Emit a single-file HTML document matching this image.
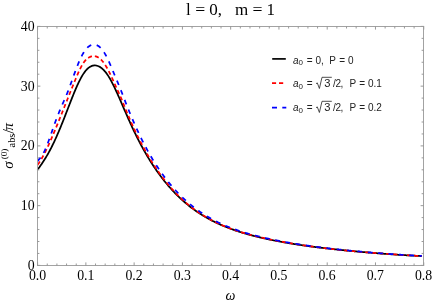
<!DOCTYPE html>
<html><head><meta charset="utf-8"><style>
html,body{margin:0;padding:0;background:#fff;}
svg{display:block;will-change:transform;}
text{font-family:"Liberation Serif",serif;fill:#000;}
.sans{font-family:"Liberation Sans",sans-serif;fill:#222;}
</style></head><body>
<svg width="434" height="305" viewBox="0 0 434 305">
<rect width="434" height="305" fill="#fff"/>
<path d="M37.50,169.77 L38.14,168.90 L38.78,168.03 L39.42,167.15 L40.07,166.26 L40.71,165.35 L41.35,164.43 L41.99,163.49 L42.63,162.54 L43.27,161.57 L43.92,160.58 L44.56,159.57 L45.20,158.54 L45.84,157.49 L46.48,156.42 L47.12,155.33 L47.77,154.22 L48.41,153.08 L49.05,151.92 L49.69,150.73 L50.33,149.53 L50.97,148.30 L51.61,147.04 L52.26,145.76 L52.90,144.46 L53.54,143.13 L54.18,141.78 L54.82,140.41 L55.46,139.01 L56.11,137.60 L56.75,136.16 L57.39,134.70 L58.03,133.22 L58.67,131.72 L59.31,130.20 L59.95,128.66 L60.60,127.11 L61.24,125.54 L61.88,123.95 L62.52,122.35 L63.16,120.74 L63.80,119.11 L64.45,117.48 L65.09,115.84 L65.73,114.19 L66.37,112.53 L67.01,110.88 L67.65,109.22 L68.30,107.55 L68.94,105.89 L69.58,104.24 L70.22,102.59 L70.86,100.94 L71.50,99.31 L72.14,97.69 L72.79,96.08 L73.43,94.49 L74.07,92.91 L74.71,91.36 L75.35,89.84 L75.99,88.34 L76.64,86.86 L77.28,85.42 L77.92,84.02 L78.56,82.65 L79.20,81.33 L79.84,80.04 L80.49,78.81 L81.13,77.62 L81.77,76.48 L82.41,75.40 L83.05,74.37 L83.69,73.39 L84.33,72.47 L84.98,71.61 L85.62,70.80 L86.26,70.05 L86.90,69.36 L87.54,68.73 L88.18,68.16 L88.83,67.64 L89.47,67.19 L90.11,66.78 L90.75,66.43 L91.39,66.14 L92.03,65.89 L92.67,65.70 L93.32,65.56 L93.96,65.47 L94.60,65.43 L95.24,65.45 L95.88,65.50 L96.52,65.61 L97.17,65.77 L97.81,65.97 L98.45,66.22 L99.09,66.52 L99.73,66.86 L100.37,67.26 L101.02,67.69 L101.66,68.18 L102.30,68.71 L102.94,69.29 L103.58,69.92 L104.22,70.59 L104.86,71.31 L105.51,72.08 L106.15,72.89 L106.79,73.76 L107.43,74.67 L108.07,75.63 L108.71,76.63 L109.36,77.68 L110.00,78.78 L110.64,79.91 L111.28,81.08 L111.92,82.29 L112.56,83.53 L113.21,84.80 L113.85,86.10 L114.49,87.42 L115.13,88.77 L115.77,90.15 L116.41,91.54 L117.05,92.94 L117.70,94.37 L118.34,95.81 L118.98,97.25 L119.62,98.71 L120.26,100.18 L120.90,101.65 L121.55,103.13 L122.19,104.61 L122.83,106.09 L123.47,107.58 L124.11,109.06 L124.75,110.54 L125.39,112.02 L126.04,113.49 L126.68,114.96 L127.32,116.42 L127.96,117.87 L128.60,119.32 L129.24,120.75 L129.89,122.18 L130.53,123.60 L131.17,125.00 L131.81,126.39 L132.45,127.77 L133.09,129.14 L133.74,130.50 L134.38,131.84 L135.02,133.17 L135.66,134.48 L136.30,135.79 L136.94,137.08 L137.58,138.35 L138.23,139.61 L138.87,140.86 L139.51,142.10 L140.15,143.32 L140.79,144.53 L141.43,145.73 L142.08,146.91 L142.72,148.08 L143.36,149.24 L144.00,150.39 L144.64,151.52 L145.28,152.65 L145.93,153.76 L146.57,154.86 L147.21,155.94 L147.85,157.02 L148.49,158.08 L149.13,159.13 L149.77,160.18 L150.42,161.20 L151.06,162.22 L151.70,163.23 L152.34,164.23 L152.98,165.21 L153.62,166.18 L154.27,167.15 L154.91,168.10 L155.55,169.04 L156.19,169.97 L156.83,170.90 L157.47,171.81 L158.12,172.71 L158.76,173.60 L159.40,174.48 L160.04,175.35 L160.68,176.21 L161.32,177.06 L161.96,177.91 L162.61,178.74 L163.25,179.56 L163.89,180.37 L164.53,181.18 L165.17,181.97 L165.81,182.76 L166.46,183.54 L167.10,184.30 L167.74,185.06 L168.38,185.81 L169.02,186.56 L169.66,187.29 L170.30,188.01 L170.95,188.73 L171.59,189.44 L172.23,190.14 L172.87,190.83 L173.51,191.51 L174.15,192.19 L174.80,192.86 L175.44,193.52 L176.08,194.17 L176.72,194.81 L177.36,195.45 L178.00,196.08 L178.65,196.70 L179.29,197.32 L179.93,197.92 L180.57,198.52 L181.21,199.12 L181.85,199.70 L182.49,200.28 L183.14,200.86 L183.78,201.42 L184.42,201.98 L185.06,202.53 L185.70,203.08 L186.34,203.62 L186.99,204.15 L187.63,204.67 L188.27,205.19 L188.91,205.71 L189.55,206.21 L190.19,206.72 L190.84,207.21 L191.48,207.70 L192.12,208.18 L192.76,208.66 L193.40,209.13 L194.04,209.60 L194.68,210.06 L195.33,210.52 L195.97,210.97 L196.61,211.41 L197.25,211.85 L197.89,212.28 L198.53,212.71 L199.18,213.13 L199.82,213.55 L200.46,213.96 L201.10,214.37 L201.74,214.78 L202.38,215.17 L203.02,215.57 L203.67,215.96 L204.31,216.34 L204.95,216.72 L205.59,217.09 L206.23,217.46 L206.87,217.83 L207.52,218.19 L208.16,218.55 L208.80,218.90 L209.44,219.25 L210.08,219.60 L210.72,219.94 L211.37,220.27 L212.01,220.61 L212.65,220.93 L213.29,221.26 L213.93,221.58 L214.57,221.90 L215.21,222.21 L215.86,222.52 L216.50,222.83 L217.14,223.13 L217.78,223.43 L218.42,223.72 L219.06,224.01 L219.71,224.30 L220.35,224.59 L220.99,224.87 L221.63,225.15 L222.27,225.43 L222.91,225.70 L223.56,225.97 L224.20,226.23 L224.84,226.50 L225.48,226.76 L226.12,227.01 L226.76,227.27 L227.40,227.52 L228.05,227.77 L228.69,228.02 L229.33,228.26 L229.97,228.50 L230.61,228.74 L231.25,228.97 L231.90,229.21 L232.54,229.44 L233.18,229.67 L233.82,229.89 L234.46,230.11 L235.10,230.33 L235.74,230.55 L236.39,230.77 L237.03,230.98 L237.67,231.20 L238.31,231.40 L238.95,231.61 L239.59,231.82 L240.24,232.02 L240.88,232.22 L241.52,232.42 L242.16,232.62 L242.80,232.81 L243.44,233.01 L244.09,233.20 L244.73,233.39 L245.37,233.58 L246.01,233.76 L246.65,233.95 L247.29,234.13 L247.93,234.31 L248.58,234.49 L249.22,234.66 L249.86,234.84 L250.50,235.01 L251.14,235.19 L251.78,235.36 L252.43,235.53 L253.07,235.69 L253.71,235.86 L254.35,236.03 L254.99,236.19 L255.63,236.35 L256.28,236.51 L256.92,236.67 L257.56,236.83 L258.20,236.98 L258.84,237.14 L259.48,237.29 L260.12,237.45 L260.77,237.60 L261.41,237.75 L262.05,237.89 L262.69,238.04 L263.33,238.19 L263.97,238.33 L264.62,238.48 L265.26,238.62 L265.90,238.76 L266.54,238.90 L267.18,239.04 L267.82,239.18 L268.46,239.32 L269.11,239.45 L269.75,239.59 L270.39,239.72 L271.03,239.85 L271.67,239.99 L272.31,240.12 L272.96,240.25 L273.60,240.38 L274.24,240.50 L274.88,240.63 L275.52,240.76 L276.16,240.88 L276.81,241.01 L277.45,241.13 L278.09,241.25 L278.73,241.37 L279.37,241.49 L280.01,241.61 L280.65,241.73 L281.30,241.85 L281.94,241.96 L282.58,242.08 L283.22,242.19 L283.86,242.31 L284.50,242.42 L285.15,242.53 L285.79,242.64 L286.43,242.76 L287.07,242.86 L287.71,242.97 L288.35,243.08 L289.00,243.19 L289.64,243.30 L290.28,243.40 L290.92,243.51 L291.56,243.61 L292.20,243.72 L292.84,243.82 L293.49,243.92 L294.13,244.02 L294.77,244.12 L295.41,244.22 L296.05,244.32 L296.69,244.42 L297.34,244.52 L297.98,244.62 L298.62,244.71 L299.26,244.81 L299.90,244.90 L300.54,245.00 L301.18,245.09 L301.83,245.19 L302.47,245.28 L303.11,245.37 L303.75,245.46 L304.39,245.55 L305.03,245.65 L305.68,245.74 L306.32,245.82 L306.96,245.91 L307.60,246.00 L308.24,246.09 L308.88,246.18 L309.53,246.26 L310.17,246.35 L310.81,246.43 L311.45,246.52 L312.09,246.60 L312.73,246.69 L313.37,246.77 L314.02,246.85 L314.66,246.94 L315.30,247.02 L315.94,247.10 L316.58,247.18 L317.22,247.26 L317.87,247.34 L318.51,247.42 L319.15,247.50 L319.79,247.58 L320.43,247.66 L321.07,247.73 L321.72,247.81 L322.36,247.89 L323.00,247.96 L323.64,248.04 L324.28,248.12 L324.92,248.19 L325.56,248.27 L326.21,248.34 L326.85,248.41 L327.49,248.49 L328.13,248.56 L328.77,248.63 L329.41,248.71 L330.06,248.78 L330.70,248.85 L331.34,248.92 L331.98,248.99 L332.62,249.06 L333.26,249.13 L333.91,249.20 L334.55,249.27 L335.19,249.34 L335.83,249.41 L336.47,249.48 L337.11,249.55 L337.75,249.61 L338.40,249.68 L339.04,249.75 L339.68,249.82 L340.32,249.88 L340.96,249.95 L341.60,250.01 L342.25,250.08 L342.89,250.15 L343.53,250.21 L344.17,250.28 L344.81,250.34 L345.45,250.40 L346.09,250.47 L346.74,250.53 L347.38,250.59 L348.02,250.66 L348.66,250.72 L349.30,250.78 L349.94,250.84 L350.59,250.91 L351.23,250.97 L351.87,251.03 L352.51,251.09 L353.15,251.15 L353.79,251.21 L354.44,251.27 L355.08,251.33 L355.72,251.39 L356.36,251.45 L357.00,251.51 L357.64,251.57 L358.28,251.63 L358.93,251.68 L359.57,251.74 L360.21,251.80 L360.85,251.86 L361.49,251.92 L362.13,251.97 L362.78,252.03 L363.42,252.09 L364.06,252.14 L364.70,252.20 L365.34,252.25 L365.98,252.31 L366.63,252.37 L367.27,252.42 L367.91,252.48 L368.55,252.53 L369.19,252.58 L369.83,252.64 L370.47,252.69 L371.12,252.75 L371.76,252.80 L372.40,252.85 L373.04,252.90 L373.68,252.96 L374.32,253.01 L374.97,253.06 L375.61,253.11 L376.25,253.17 L376.89,253.22 L377.53,253.27 L378.17,253.32 L378.81,253.37 L379.46,253.42 L380.10,253.47 L380.74,253.52 L381.38,253.57 L382.02,253.62 L382.66,253.67 L383.31,253.72 L383.95,253.76 L384.59,253.81 L385.23,253.86 L385.87,253.91 L386.51,253.96 L387.16,254.00 L387.80,254.05 L388.44,254.10 L389.08,254.14 L389.72,254.19 L390.36,254.23 L391.00,254.28 L391.65,254.33 L392.29,254.37 L392.93,254.41 L393.57,254.46 L394.21,254.50 L394.85,254.55 L395.50,254.59 L396.14,254.63 L396.78,254.68 L397.42,254.72 L398.06,254.76 L398.70,254.80 L399.35,254.84 L399.99,254.88 L400.63,254.93 L401.27,254.97 L401.91,255.01 L402.55,255.05 L403.19,255.09 L403.84,255.12 L404.48,255.16 L405.12,255.20 L405.76,255.24 L406.40,255.28 L407.04,255.32 L407.69,255.35 L408.33,255.39 L408.97,255.42 L409.61,255.46 L410.25,255.50 L410.89,255.53 L411.53,255.57 L412.18,255.60 L412.82,255.63 L413.46,255.67 L414.10,255.70 L414.74,255.73 L415.38,255.77 L416.03,255.80 L416.67,255.83 L417.31,255.86 L417.95,255.89 L418.59,255.92 L419.23,255.95 L419.88,255.98 L420.52,256.01 L421.16,256.04 L421.80,256.06" fill="none" stroke="#000" stroke-width="1.75" stroke-linejoin="round"/>
<path d="M37.50,164.85 L38.14,164.04 L38.78,163.17 L39.42,162.24 L40.07,161.26 L40.71,160.24 L41.35,159.17 L41.99,158.06 L42.63,156.91 L43.27,155.72 L43.92,154.51 L44.56,153.26 L45.20,151.99 L45.84,150.69 L46.48,149.37 L47.12,148.02 L47.77,146.66 L48.41,145.27 L49.05,143.87 L49.69,142.45 L50.33,141.02 L50.97,139.56 L51.61,138.10 L52.26,136.62 L52.90,135.12 L53.54,133.62 L54.18,132.10 L54.82,130.57 L55.46,129.03 L56.11,127.48 L56.75,125.92 L57.39,124.36 L58.03,122.78 L58.67,121.20 L59.31,119.62 L59.95,118.02 L60.60,116.43 L61.24,114.82 L61.88,113.22 L62.52,111.61 L63.16,110.00 L63.80,108.39 L64.45,106.78 L65.09,105.16 L65.73,103.55 L66.37,101.94 L67.01,100.32 L67.65,98.71 L68.30,97.11 L68.94,95.50 L69.58,93.90 L70.22,92.30 L70.86,90.71 L71.50,89.12 L72.14,87.53 L72.79,85.96 L73.43,84.39 L74.07,82.82 L74.71,81.26 L75.35,79.71 L75.99,78.18 L76.64,76.65 L77.28,75.15 L77.92,73.67 L78.56,72.22 L79.20,70.80 L79.84,69.44 L80.49,68.12 L81.13,66.87 L81.77,65.68 L82.41,64.57 L83.05,63.52 L83.69,62.55 L84.33,61.66 L84.98,60.85 L85.62,60.11 L86.26,59.46 L86.90,58.87 L87.54,58.35 L88.18,57.90 L88.83,57.51 L89.47,57.18 L90.11,56.89 L90.75,56.65 L91.39,56.46 L92.03,56.32 L92.67,56.22 L93.32,56.16 L93.96,56.16 L94.60,56.19 L95.24,56.28 L95.88,56.43 L96.52,56.62 L97.17,56.87 L97.81,57.18 L98.45,57.55 L99.09,57.97 L99.73,58.45 L100.37,58.99 L101.02,59.59 L101.66,60.25 L102.30,60.97 L102.94,61.75 L103.58,62.58 L104.22,63.47 L104.86,64.41 L105.51,65.41 L106.15,66.45 L106.79,67.55 L107.43,68.69 L108.07,69.88 L108.71,71.10 L109.36,72.37 L110.00,73.67 L110.64,75.00 L111.28,76.36 L111.92,77.75 L112.56,79.15 L113.21,80.57 L113.85,82.00 L114.49,83.44 L115.13,84.88 L115.77,86.31 L116.41,87.74 L117.05,89.16 L117.70,90.57 L118.34,91.98 L118.98,93.39 L119.62,94.81 L120.26,96.25 L120.90,97.71 L121.55,99.20 L122.19,100.74 L122.83,102.31 L123.47,103.90 L124.11,105.50 L124.75,107.11 L125.39,108.70 L126.04,110.28 L126.68,111.85 L127.32,113.39 L127.96,114.93 L128.60,116.45 L129.24,117.95 L129.89,119.43 L130.53,120.90 L131.17,122.36 L131.81,123.80 L132.45,125.23 L133.09,126.64 L133.74,128.03 L134.38,129.42 L135.02,130.78 L135.66,132.14 L136.30,133.47 L136.94,134.80 L137.58,136.11 L138.23,137.41 L138.87,138.69 L139.51,139.96 L140.15,141.21 L140.79,142.46 L141.43,143.69 L142.08,144.90 L142.72,146.11 L143.36,147.30 L144.00,148.47 L144.64,149.64 L145.28,150.79 L145.93,151.93 L146.57,153.06 L147.21,154.17 L147.85,155.27 L148.49,156.37 L149.13,157.44 L149.77,158.51 L150.42,159.57 L151.06,160.61 L151.70,161.64 L152.34,162.66 L152.98,163.67 L153.62,164.67 L154.27,165.66 L154.91,166.64 L155.55,167.60 L156.19,168.56 L156.83,169.50 L157.47,170.44 L158.12,171.36 L158.76,172.27 L159.40,173.18 L160.04,174.07 L160.68,174.95 L161.32,175.82 L161.96,176.69 L162.61,177.54 L163.25,178.38 L163.89,179.22 L164.53,180.04 L165.17,180.86 L165.81,181.66 L166.46,182.46 L167.10,183.24 L167.74,184.02 L168.38,184.79 L169.02,185.55 L169.66,186.30 L170.30,187.05 L170.95,187.78 L171.59,188.51 L172.23,189.22 L172.87,189.93 L173.51,190.63 L174.15,191.33 L174.80,192.01 L175.44,192.69 L176.08,193.36 L176.72,194.02 L177.36,194.67 L178.00,195.32 L178.65,195.95 L179.29,196.58 L179.93,197.21 L180.57,197.82 L181.21,198.43 L181.85,199.03 L182.49,199.63 L183.14,200.21 L183.78,200.79 L184.42,201.36 L185.06,201.93 L185.70,202.49 L186.34,203.04 L186.99,203.59 L187.63,204.13 L188.27,204.66 L188.91,205.19 L189.55,205.71 L190.19,206.22 L190.84,206.73 L191.48,207.23 L192.12,207.72 L192.76,208.21 L193.40,208.70 L194.04,209.17 L194.68,209.64 L195.33,210.11 L195.97,210.57 L196.61,211.02 L197.25,211.47 L197.89,211.92 L198.53,212.35 L199.18,212.79 L199.82,213.21 L200.46,213.64 L201.10,214.05 L201.74,214.47 L202.38,214.87 L203.02,215.27 L203.67,215.67 L204.31,216.06 L204.95,216.45 L205.59,216.83 L206.23,217.21 L206.87,217.58 L207.52,217.95 L208.16,218.31 L208.80,218.67 L209.44,219.03 L210.08,219.38 L210.72,219.73 L211.37,220.07 L212.01,220.41 L212.65,220.74 L213.29,221.07 L213.93,221.40 L214.57,221.72 L215.21,222.04 L215.86,222.35 L216.50,222.66 L217.14,222.97 L217.78,223.27 L218.42,223.57 L219.06,223.86 L219.71,224.16 L220.35,224.44 L220.99,224.73 L221.63,225.01 L222.27,225.29 L222.91,225.56 L223.56,225.84 L224.20,226.10 L224.84,226.37 L225.48,226.63 L226.12,226.89 L226.76,227.15 L227.40,227.40 L228.05,227.65 L228.69,227.90 L229.33,228.14 L229.97,228.38 L230.61,228.62 L231.25,228.86 L231.90,229.09 L232.54,229.32 L233.18,229.55 L233.82,229.77 L234.46,230.00 L235.10,230.22 L235.74,230.43 L236.39,230.65 L237.03,230.86 L237.67,231.07 L238.31,231.28 L238.95,231.49 L239.59,231.69 L240.24,231.90 L240.88,232.10 L241.52,232.29 L242.16,232.49 L242.80,232.68 L243.44,232.87 L244.09,233.06 L244.73,233.25 L245.37,233.44 L246.01,233.62 L246.65,233.80 L247.29,233.98 L247.93,234.16 L248.58,234.34 L249.22,234.51 L249.86,234.69 L250.50,234.86 L251.14,235.03 L251.78,235.20 L252.43,235.36 L253.07,235.53 L253.71,235.69 L254.35,235.85 L254.99,236.01 L255.63,236.17 L256.28,236.33 L256.92,236.49 L257.56,236.64 L258.20,236.80 L258.84,236.95 L259.48,237.10 L260.12,237.25 L260.77,237.40 L261.41,237.55 L262.05,237.69 L262.69,237.84 L263.33,237.98 L263.97,238.12 L264.62,238.27 L265.26,238.41 L265.90,238.55 L266.54,238.68 L267.18,238.82 L267.82,238.96 L268.46,239.09 L269.11,239.23 L269.75,239.36 L270.39,239.49 L271.03,239.63 L271.67,239.76 L272.31,239.89 L272.96,240.02 L273.60,240.14 L274.24,240.27 L274.88,240.40 L275.52,240.52 L276.16,240.65 L276.81,240.77 L277.45,240.89 L278.09,241.02 L278.73,241.14 L279.37,241.26 L280.01,241.38 L280.65,241.50 L281.30,241.62 L281.94,241.73 L282.58,241.85 L283.22,241.97 L283.86,242.08 L284.50,242.20 L285.15,242.31 L285.79,242.43 L286.43,242.54 L287.07,242.65 L287.71,242.76 L288.35,242.87 L289.00,242.98 L289.64,243.09 L290.28,243.20 L290.92,243.31 L291.56,243.42 L292.20,243.52 L292.84,243.63 L293.49,243.74 L294.13,243.84 L294.77,243.95 L295.41,244.05 L296.05,244.15 L296.69,244.26 L297.34,244.36 L297.98,244.46 L298.62,244.56 L299.26,244.66 L299.90,244.76 L300.54,244.86 L301.18,244.96 L301.83,245.06 L302.47,245.15 L303.11,245.25 L303.75,245.35 L304.39,245.44 L305.03,245.54 L305.68,245.63 L306.32,245.72 L306.96,245.82 L307.60,245.91 L308.24,246.00 L308.88,246.09 L309.53,246.18 L310.17,246.27 L310.81,246.36 L311.45,246.45 L312.09,246.54 L312.73,246.63 L313.37,246.72 L314.02,246.80 L314.66,246.89 L315.30,246.98 L315.94,247.06 L316.58,247.15 L317.22,247.23 L317.87,247.31 L318.51,247.40 L319.15,247.48 L319.79,247.56 L320.43,247.64 L321.07,247.72 L321.72,247.81 L322.36,247.89 L323.00,247.97 L323.64,248.04 L324.28,248.12 L324.92,248.20 L325.56,248.28 L326.21,248.36 L326.85,248.43 L327.49,248.51 L328.13,248.58 L328.77,248.66 L329.41,248.73 L330.06,248.81 L330.70,248.88 L331.34,248.96 L331.98,249.03 L332.62,249.10 L333.26,249.17 L333.91,249.24 L334.55,249.32 L335.19,249.39 L335.83,249.46 L336.47,249.53 L337.11,249.59 L337.75,249.66 L338.40,249.73 L339.04,249.80 L339.68,249.87 L340.32,249.93 L340.96,250.00 L341.60,250.07 L342.25,250.13 L342.89,250.20 L343.53,250.26 L344.17,250.33 L344.81,250.39 L345.45,250.46 L346.09,250.52 L346.74,250.58 L347.38,250.65 L348.02,250.71 L348.66,250.77 L349.30,250.83 L349.94,250.89 L350.59,250.95 L351.23,251.01 L351.87,251.07 L352.51,251.13 L353.15,251.19 L353.79,251.25 L354.44,251.31 L355.08,251.37 L355.72,251.43 L356.36,251.48 L357.00,251.54 L357.64,251.60 L358.28,251.65 L358.93,251.71 L359.57,251.76 L360.21,251.82 L360.85,251.88 L361.49,251.93 L362.13,251.98 L362.78,252.04 L363.42,252.09 L364.06,252.15 L364.70,252.20 L365.34,252.25 L365.98,252.31 L366.63,252.36 L367.27,252.41 L367.91,252.46 L368.55,252.51 L369.19,252.56 L369.83,252.61 L370.47,252.67 L371.12,252.72 L371.76,252.77 L372.40,252.82 L373.04,252.87 L373.68,252.91 L374.32,252.96 L374.97,253.01 L375.61,253.06 L376.25,253.11 L376.89,253.16 L377.53,253.20 L378.17,253.25 L378.81,253.30 L379.46,253.35 L380.10,253.39 L380.74,253.44 L381.38,253.49 L382.02,253.53 L382.66,253.58 L383.31,253.62 L383.95,253.67 L384.59,253.72 L385.23,253.76 L385.87,253.81 L386.51,253.85 L387.16,253.89 L387.80,253.94 L388.44,253.98 L389.08,254.03 L389.72,254.07 L390.36,254.11 L391.00,254.16 L391.65,254.20 L392.29,254.24 L392.93,254.29 L393.57,254.33 L394.21,254.37 L394.85,254.42 L395.50,254.46 L396.14,254.50 L396.78,254.54 L397.42,254.58 L398.06,254.63 L398.70,254.67 L399.35,254.71 L399.99,254.75 L400.63,254.79 L401.27,254.83 L401.91,254.87 L402.55,254.92 L403.19,254.96 L403.84,255.00 L404.48,255.04 L405.12,255.08 L405.76,255.12 L406.40,255.16 L407.04,255.20 L407.69,255.24 L408.33,255.28 L408.97,255.32 L409.61,255.36 L410.25,255.40 L410.89,255.44 L411.53,255.48 L412.18,255.52 L412.82,255.56 L413.46,255.60 L414.10,255.64 L414.74,255.68 L415.38,255.72 L416.03,255.76 L416.67,255.80 L417.31,255.84 L417.95,255.88 L418.59,255.92 L419.23,255.96 L419.88,256.00 L420.52,256.03 L421.16,256.07 L421.80,256.11" fill="none" stroke="#f00" stroke-width="1.75" stroke-dasharray="4.1,2.9" stroke-linejoin="round"/>
<path d="M37.50,161.26 L38.14,160.46 L38.78,159.68 L39.42,158.90 L40.07,158.11 L40.71,157.29 L41.35,156.41 L41.99,155.47 L42.63,154.46 L43.27,153.36 L43.92,152.18 L44.56,150.91 L45.20,149.55 L45.84,148.11 L46.48,146.57 L47.12,144.97 L47.77,143.29 L48.41,141.56 L49.05,139.78 L49.69,137.97 L50.33,136.14 L50.97,134.30 L51.61,132.44 L52.26,130.59 L52.90,128.75 L53.54,126.92 L54.18,125.11 L54.82,123.32 L55.46,121.56 L56.11,119.83 L56.75,118.13 L57.39,116.46 L58.03,114.83 L58.67,113.23 L59.31,111.66 L59.95,110.12 L60.60,108.60 L61.24,107.11 L61.88,105.63 L62.52,104.17 L63.16,102.72 L63.80,101.26 L64.45,99.80 L65.09,98.32 L65.73,96.82 L66.37,95.28 L67.01,93.72 L67.65,92.12 L68.30,90.48 L68.94,88.80 L69.58,87.09 L70.22,85.35 L70.86,83.58 L71.50,81.80 L72.14,80.00 L72.79,78.21 L73.43,76.41 L74.07,74.63 L74.71,72.86 L75.35,71.11 L75.99,69.39 L76.64,67.71 L77.28,66.06 L77.92,64.45 L78.56,62.89 L79.20,61.38 L79.84,59.93 L80.49,58.53 L81.13,57.19 L81.77,55.92 L82.41,54.71 L83.05,53.56 L83.69,52.49 L84.33,51.48 L84.98,50.55 L85.62,49.68 L86.26,48.89 L86.90,48.17 L87.54,47.51 L88.18,46.93 L88.83,46.42 L89.47,45.97 L90.11,45.59 L90.75,45.28 L91.39,45.02 L92.03,44.83 L92.67,44.69 L93.32,44.61 L93.96,44.59 L94.60,44.63 L95.24,44.72 L95.88,44.87 L96.52,45.08 L97.17,45.35 L97.81,45.68 L98.45,46.07 L99.09,46.53 L99.73,47.05 L100.37,47.64 L101.02,48.30 L101.66,49.02 L102.30,49.81 L102.94,50.67 L103.58,51.59 L104.22,52.58 L104.86,53.64 L105.51,54.75 L106.15,55.93 L106.79,57.16 L107.43,58.44 L108.07,59.77 L108.71,61.15 L109.36,62.57 L110.00,64.03 L110.64,65.52 L111.28,67.03 L111.92,68.57 L112.56,70.12 L113.21,71.68 L113.85,73.24 L114.49,74.79 L115.13,76.34 L115.77,77.88 L116.41,79.41 L117.05,80.94 L117.70,82.46 L118.34,83.98 L118.98,85.52 L119.62,87.07 L120.26,88.64 L120.90,90.24 L121.55,91.86 L122.19,93.50 L122.83,95.15 L123.47,96.82 L124.11,98.49 L124.75,100.16 L125.39,101.82 L126.04,103.46 L126.68,105.09 L127.32,106.70 L127.96,108.31 L128.60,109.90 L129.24,111.47 L129.89,113.04 L130.53,114.58 L131.17,116.12 L131.81,117.64 L132.45,119.15 L133.09,120.64 L133.74,122.12 L134.38,123.58 L135.02,125.04 L135.66,126.47 L136.30,127.89 L136.94,129.30 L137.58,130.70 L138.23,132.08 L138.87,133.44 L139.51,134.79 L140.15,136.13 L140.79,137.45 L141.43,138.76 L142.08,140.05 L142.72,141.33 L143.36,142.60 L144.00,143.85 L144.64,145.09 L145.28,146.31 L145.93,147.52 L146.57,148.72 L147.21,149.90 L147.85,151.07 L148.49,152.23 L149.13,153.37 L149.77,154.50 L150.42,155.61 L151.06,156.71 L151.70,157.80 L152.34,158.88 L152.98,159.94 L153.62,160.99 L154.27,162.03 L154.91,163.06 L155.55,164.08 L156.19,165.08 L156.83,166.07 L157.47,167.05 L158.12,168.02 L158.76,168.97 L159.40,169.92 L160.04,170.85 L160.68,171.78 L161.32,172.69 L161.96,173.59 L162.61,174.48 L163.25,175.36 L163.89,176.24 L164.53,177.10 L165.17,177.95 L165.81,178.79 L166.46,179.62 L167.10,180.44 L167.74,181.25 L168.38,182.05 L169.02,182.85 L169.66,183.63 L170.30,184.40 L170.95,185.17 L171.59,185.93 L172.23,186.67 L172.87,187.41 L173.51,188.14 L174.15,188.86 L174.80,189.58 L175.44,190.28 L176.08,190.98 L176.72,191.67 L177.36,192.35 L178.00,193.02 L178.65,193.68 L179.29,194.34 L179.93,194.99 L180.57,195.63 L181.21,196.26 L181.85,196.89 L182.49,197.51 L183.14,198.12 L183.78,198.72 L184.42,199.32 L185.06,199.91 L185.70,200.49 L186.34,201.07 L186.99,201.64 L187.63,202.20 L188.27,202.76 L188.91,203.30 L189.55,203.85 L190.19,204.38 L190.84,204.91 L191.48,205.43 L192.12,205.95 L192.76,206.46 L193.40,206.96 L194.04,207.46 L194.68,207.95 L195.33,208.44 L195.97,208.92 L196.61,209.39 L197.25,209.86 L197.89,210.32 L198.53,210.78 L199.18,211.23 L199.82,211.68 L200.46,212.12 L201.10,212.55 L201.74,212.98 L202.38,213.41 L203.02,213.82 L203.67,214.24 L204.31,214.65 L204.95,215.05 L205.59,215.45 L206.23,215.84 L206.87,216.23 L207.52,216.62 L208.16,217.00 L208.80,217.37 L209.44,217.74 L210.08,218.11 L210.72,218.47 L211.37,218.83 L212.01,219.18 L212.65,219.53 L213.29,219.88 L213.93,220.22 L214.57,220.55 L215.21,220.88 L215.86,221.21 L216.50,221.54 L217.14,221.86 L217.78,222.17 L218.42,222.49 L219.06,222.79 L219.71,223.10 L220.35,223.40 L220.99,223.70 L221.63,223.99 L222.27,224.28 L222.91,224.57 L223.56,224.86 L224.20,225.14 L224.84,225.41 L225.48,225.69 L226.12,225.96 L226.76,226.23 L227.40,226.49 L228.05,226.75 L228.69,227.01 L229.33,227.27 L229.97,227.52 L230.61,227.77 L231.25,228.01 L231.90,228.26 L232.54,228.50 L233.18,228.74 L233.82,228.97 L234.46,229.21 L235.10,229.44 L235.74,229.67 L236.39,229.89 L237.03,230.11 L237.67,230.33 L238.31,230.55 L238.95,230.77 L239.59,230.98 L240.24,231.19 L240.88,231.40 L241.52,231.61 L242.16,231.81 L242.80,232.02 L243.44,232.22 L244.09,232.41 L244.73,232.61 L245.37,232.80 L246.01,233.00 L246.65,233.19 L247.29,233.37 L247.93,233.56 L248.58,233.75 L249.22,233.93 L249.86,234.11 L250.50,234.29 L251.14,234.47 L251.78,234.64 L252.43,234.82 L253.07,234.99 L253.71,235.16 L254.35,235.33 L254.99,235.50 L255.63,235.66 L256.28,235.83 L256.92,235.99 L257.56,236.15 L258.20,236.31 L258.84,236.47 L259.48,236.63 L260.12,236.79 L260.77,236.94 L261.41,237.09 L262.05,237.25 L262.69,237.40 L263.33,237.55 L263.97,237.70 L264.62,237.84 L265.26,237.99 L265.90,238.13 L266.54,238.28 L267.18,238.42 L267.82,238.56 L268.46,238.70 L269.11,238.84 L269.75,238.98 L270.39,239.12 L271.03,239.25 L271.67,239.39 L272.31,239.52 L272.96,239.66 L273.60,239.79 L274.24,239.92 L274.88,240.05 L275.52,240.18 L276.16,240.31 L276.81,240.43 L277.45,240.56 L278.09,240.69 L278.73,240.81 L279.37,240.93 L280.01,241.06 L280.65,241.18 L281.30,241.30 L281.94,241.42 L282.58,241.54 L283.22,241.66 L283.86,241.78 L284.50,241.90 L285.15,242.01 L285.79,242.13 L286.43,242.24 L287.07,242.36 L287.71,242.47 L288.35,242.58 L289.00,242.69 L289.64,242.81 L290.28,242.92 L290.92,243.02 L291.56,243.13 L292.20,243.24 L292.84,243.35 L293.49,243.46 L294.13,243.56 L294.77,243.67 L295.41,243.77 L296.05,243.87 L296.69,243.98 L297.34,244.08 L297.98,244.18 L298.62,244.28 L299.26,244.38 L299.90,244.48 L300.54,244.58 L301.18,244.68 L301.83,244.78 L302.47,244.87 L303.11,244.97 L303.75,245.07 L304.39,245.16 L305.03,245.26 L305.68,245.35 L306.32,245.44 L306.96,245.54 L307.60,245.63 L308.24,245.72 L308.88,245.81 L309.53,245.90 L310.17,245.99 L310.81,246.08 L311.45,246.17 L312.09,246.26 L312.73,246.35 L313.37,246.43 L314.02,246.52 L314.66,246.60 L315.30,246.69 L315.94,246.77 L316.58,246.86 L317.22,246.94 L317.87,247.03 L318.51,247.11 L319.15,247.19 L319.79,247.27 L320.43,247.35 L321.07,247.44 L321.72,247.52 L322.36,247.60 L323.00,247.67 L323.64,247.75 L324.28,247.83 L324.92,247.91 L325.56,247.99 L326.21,248.06 L326.85,248.14 L327.49,248.22 L328.13,248.29 L328.77,248.37 L329.41,248.44 L330.06,248.52 L330.70,248.59 L331.34,248.66 L331.98,248.74 L332.62,248.81 L333.26,248.88 L333.91,248.95 L334.55,249.03 L335.19,249.10 L335.83,249.17 L336.47,249.24 L337.11,249.31 L337.75,249.38 L338.40,249.45 L339.04,249.51 L339.68,249.58 L340.32,249.65 L340.96,249.72 L341.60,249.79 L342.25,249.85 L342.89,249.92 L343.53,249.99 L344.17,250.05 L344.81,250.12 L345.45,250.18 L346.09,250.25 L346.74,250.31 L347.38,250.37 L348.02,250.44 L348.66,250.50 L349.30,250.56 L349.94,250.63 L350.59,250.69 L351.23,250.75 L351.87,250.81 L352.51,250.88 L353.15,250.94 L353.79,251.00 L354.44,251.06 L355.08,251.12 L355.72,251.18 L356.36,251.24 L357.00,251.30 L357.64,251.36 L358.28,251.41 L358.93,251.47 L359.57,251.53 L360.21,251.59 L360.85,251.65 L361.49,251.70 L362.13,251.76 L362.78,251.82 L363.42,251.87 L364.06,251.93 L364.70,251.99 L365.34,252.04 L365.98,252.10 L366.63,252.15 L367.27,252.21 L367.91,252.26 L368.55,252.32 L369.19,252.37 L369.83,252.42 L370.47,252.48 L371.12,252.53 L371.76,252.58 L372.40,252.64 L373.04,252.69 L373.68,252.74 L374.32,252.79 L374.97,252.84 L375.61,252.90 L376.25,252.95 L376.89,253.00 L377.53,253.05 L378.17,253.10 L378.81,253.15 L379.46,253.20 L380.10,253.25 L380.74,253.30 L381.38,253.35 L382.02,253.40 L382.66,253.45 L383.31,253.49 L383.95,253.54 L384.59,253.59 L385.23,253.64 L385.87,253.69 L386.51,253.73 L387.16,253.78 L387.80,253.83 L388.44,253.87 L389.08,253.92 L389.72,253.97 L390.36,254.01 L391.00,254.06 L391.65,254.10 L392.29,254.15 L392.93,254.20 L393.57,254.24 L394.21,254.28 L394.85,254.33 L395.50,254.37 L396.14,254.42 L396.78,254.46 L397.42,254.51 L398.06,254.55 L398.70,254.59 L399.35,254.63 L399.99,254.68 L400.63,254.72 L401.27,254.76 L401.91,254.80 L402.55,254.85 L403.19,254.89 L403.84,254.93 L404.48,254.97 L405.12,255.01 L405.76,255.05 L406.40,255.09 L407.04,255.13 L407.69,255.17 L408.33,255.21 L408.97,255.25 L409.61,255.29 L410.25,255.33 L410.89,255.37 L411.53,255.41 L412.18,255.45 L412.82,255.48 L413.46,255.52 L414.10,255.56 L414.74,255.60 L415.38,255.63 L416.03,255.67 L416.67,255.71 L417.31,255.74 L417.95,255.78 L418.59,255.82 L419.23,255.85 L419.88,255.89 L420.52,255.92 L421.16,255.96 L421.80,255.99" fill="none" stroke="#00f" stroke-width="1.75" stroke-dasharray="4.8,5.58" stroke-linejoin="round"/>
<rect x="37.5" y="26.5" width="386.0" height="239.0" fill="none" stroke="#a2a2a2" stroke-width="1"/>
<path d="M37.60,266.0 v-3.6 M37.60,26.0 v3.6 M47.25,266.0 v-2.5 M47.25,26.0 v2.5 M56.91,266.0 v-2.5 M56.91,26.0 v2.5 M66.56,266.0 v-2.5 M66.56,26.0 v2.5 M76.22,266.0 v-2.5 M76.22,26.0 v2.5 M85.87,266.0 v-3.6 M85.87,26.0 v3.6 M95.52,266.0 v-2.5 M95.52,26.0 v2.5 M105.18,266.0 v-2.5 M105.18,26.0 v2.5 M114.83,266.0 v-2.5 M114.83,26.0 v2.5 M124.48,266.0 v-2.5 M124.48,26.0 v2.5 M134.14,266.0 v-3.6 M134.14,26.0 v3.6 M143.79,266.0 v-2.5 M143.79,26.0 v2.5 M153.44,266.0 v-2.5 M153.44,26.0 v2.5 M163.10,266.0 v-2.5 M163.10,26.0 v2.5 M172.75,266.0 v-2.5 M172.75,26.0 v2.5 M182.41,266.0 v-3.6 M182.41,26.0 v3.6 M192.06,266.0 v-2.5 M192.06,26.0 v2.5 M201.71,266.0 v-2.5 M201.71,26.0 v2.5 M211.37,266.0 v-2.5 M211.37,26.0 v2.5 M221.02,266.0 v-2.5 M221.02,26.0 v2.5 M230.67,266.0 v-3.6 M230.67,26.0 v3.6 M240.33,266.0 v-2.5 M240.33,26.0 v2.5 M249.98,266.0 v-2.5 M249.98,26.0 v2.5 M259.64,266.0 v-2.5 M259.64,26.0 v2.5 M269.29,266.0 v-2.5 M269.29,26.0 v2.5 M278.94,266.0 v-3.6 M278.94,26.0 v3.6 M288.60,266.0 v-2.5 M288.60,26.0 v2.5 M298.25,266.0 v-2.5 M298.25,26.0 v2.5 M307.91,266.0 v-2.5 M307.91,26.0 v2.5 M317.56,266.0 v-2.5 M317.56,26.0 v2.5 M327.21,266.0 v-3.6 M327.21,26.0 v3.6 M336.87,266.0 v-2.5 M336.87,26.0 v2.5 M346.52,266.0 v-2.5 M346.52,26.0 v2.5 M356.17,266.0 v-2.5 M356.17,26.0 v2.5 M365.83,266.0 v-2.5 M365.83,26.0 v2.5 M375.48,266.0 v-3.6 M375.48,26.0 v3.6 M385.13,266.0 v-2.5 M385.13,26.0 v2.5 M394.79,266.0 v-2.5 M394.79,26.0 v2.5 M404.44,266.0 v-2.5 M404.44,26.0 v2.5 M414.10,266.0 v-2.5 M414.10,26.0 v2.5 M423.75,266.0 v-3.6 M423.75,26.0 v3.6 M37.0,265.40 h3.4 M424.0,265.40 h-3.4 M37.0,253.45 h2.4 M424.0,253.45 h-2.4 M37.0,241.50 h2.4 M424.0,241.50 h-2.4 M37.0,229.55 h2.4 M424.0,229.55 h-2.4 M37.0,217.60 h2.4 M424.0,217.60 h-2.4 M37.0,205.65 h3.4 M424.0,205.65 h-3.4 M37.0,193.70 h2.4 M424.0,193.70 h-2.4 M37.0,181.75 h2.4 M424.0,181.75 h-2.4 M37.0,169.80 h2.4 M424.0,169.80 h-2.4 M37.0,157.85 h2.4 M424.0,157.85 h-2.4 M37.0,145.90 h3.4 M424.0,145.90 h-3.4 M37.0,133.95 h2.4 M424.0,133.95 h-2.4 M37.0,122.00 h2.4 M424.0,122.00 h-2.4 M37.0,110.05 h2.4 M424.0,110.05 h-2.4 M37.0,98.10 h2.4 M424.0,98.10 h-2.4 M37.0,86.15 h3.4 M424.0,86.15 h-3.4 M37.0,74.20 h2.4 M424.0,74.20 h-2.4 M37.0,62.25 h2.4 M424.0,62.25 h-2.4 M37.0,50.30 h2.4 M424.0,50.30 h-2.4 M37.0,38.35 h2.4 M424.0,38.35 h-2.4 M37.0,26.40 h3.4 M424.0,26.40 h-3.4" fill="none" stroke="#9a9a9a" stroke-width="1"/>
<g class="t" font-size="13.8"><text x="37.50" y="279.6" text-anchor="middle">0.0</text><text x="85.75" y="279.6" text-anchor="middle">0.1</text><text x="134.00" y="279.6" text-anchor="middle">0.2</text><text x="182.25" y="279.6" text-anchor="middle">0.3</text><text x="230.50" y="279.6" text-anchor="middle">0.4</text><text x="278.75" y="279.6" text-anchor="middle">0.5</text><text x="327.00" y="279.6" text-anchor="middle">0.6</text><text x="375.25" y="279.6" text-anchor="middle">0.7</text><text x="423.50" y="279.6" text-anchor="middle">0.8</text><text x="34.6" y="269.90" text-anchor="end">0</text><text x="34.6" y="210.15" text-anchor="end">10</text><text x="34.6" y="150.40" text-anchor="end">20</text><text x="34.6" y="90.65" text-anchor="end">30</text><text x="34.6" y="30.90" text-anchor="end">40</text></g>
<g class="t" font-size="17"><text x="186.1" y="14.6">l</text><text x="195.2" y="14.6" textLength="10" lengthAdjust="spacingAndGlyphs">=</text><text x="209.2" y="14.6">0,</text><text x="234.9" y="14.6">m</text><text x="252.5" y="14.6" textLength="10" lengthAdjust="spacingAndGlyphs">=</text><text x="266.4" y="14.6">1</text></g>
<text class="t" x="230.4" y="299.7" font-size="14" font-style="italic" text-anchor="middle">ω</text>
<g class="t" transform="translate(13.1,170) rotate(-90)">
<text x="1.3" y="0" font-size="15" font-style="italic">σ</text>
<text x="10.7" y="-5.7" font-size="9.2">(0)</text>
<text x="22.6" y="1.8" font-size="10.3">abs</text>
<text x="36.3" y="0.6" font-size="17">/</text>
<text x="39.6" y="0" font-size="15" font-style="italic">π</text>
</g>
<!-- legend -->
<path d="M272.2,58.9 H285.8" stroke="#000" stroke-width="1.7"/>
<path d="M272,83.2 h4.1 M279,83.2 h4.2" stroke="#f00" stroke-width="1.75"/>
<path d="M272,107.5 h5 M282.3,107.5 h4" stroke="#00f" stroke-width="1.75"/>
<g class="sans t" font-size="10" fill="#222">
<text class="sans" x="293.0" y="63.6"><tspan font-style="italic">a</tspan><tspan font-size="8" dy="1.7">0</tspan></text>
<text class="sans" x="306.8" y="63.6">=</text><text class="sans" x="315.4" y="63.6">0,</text>
<text class="sans" x="329.2" y="63.6">P</text><text class="sans" x="339.2" y="63.6">=</text><text class="sans" x="348.1" y="63.6">0</text>
<text class="sans" x="293.0" y="87.2"><tspan font-style="italic">a</tspan><tspan font-size="8" dy="1.7">0</tspan></text><text class="sans" x="306.7" y="87.2">=</text><path d="M316.0,83.7 l1.3,-0.8 l2.1,5.6 l2.6,-11.2 h9.8" fill="none" stroke="#222" stroke-width="0.8"/><text class="sans" x="324.3" y="87.2" font-size="11.2">3</text><text class="sans" x="333.1" y="87.2">/</text><text class="sans" x="335.6" y="87.2">2</text><text class="sans" x="340.5" y="87.2">,</text><text class="sans" x="349.5" y="87.2">P</text><text class="sans" x="359.2" y="87.2">=</text><text class="sans" x="368.0" y="87.2">0.1</text>
<text class="sans" x="293.0" y="111.2"><tspan font-style="italic">a</tspan><tspan font-size="8" dy="1.7">0</tspan></text><text class="sans" x="306.7" y="111.2">=</text><path d="M316.0,107.7 l1.3,-0.8 l2.1,5.6 l2.6,-11.2 h9.8" fill="none" stroke="#222" stroke-width="0.8"/><text class="sans" x="324.3" y="111.2" font-size="11.2">3</text><text class="sans" x="333.1" y="111.2">/</text><text class="sans" x="335.6" y="111.2">2</text><text class="sans" x="340.5" y="111.2">,</text><text class="sans" x="349.5" y="111.2">P</text><text class="sans" x="359.2" y="111.2">=</text><text class="sans" x="368.0" y="111.2">0.2</text>
</g>
</svg>
</body></html>
